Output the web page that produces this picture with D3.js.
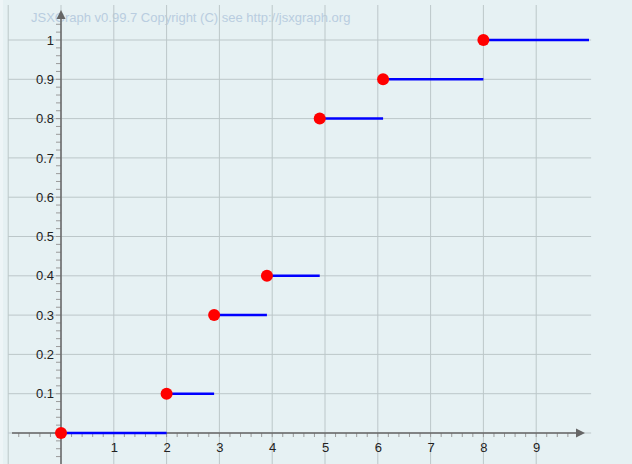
<!DOCTYPE html>
<html><head><meta charset="utf-8">
<script src="https://cdn.jsdelivr.net/npm/d3@7/dist/d3.min.js"></script>
<style>html,body{margin:0;padding:0;background:#fff}svg{display:block}</style>
</head><body>
<script>
// Step function data
const stepStarts = [0, 2, 2.9, 3.9, 4.9, 6.1, 8];
const stepEnds   = [2, 2.9, 3.9, 4.9, 6.1, 8, 10];
const stepValues = [0, 0.1, 0.3, 0.4, 0.8, 0.9, 1];
const xTickLabels = [1, 2, 3, 4, 5, 6, 7, 8, 9];
const yTickLabels = [0.1, 0.2, 0.3, 0.4, 0.5, 0.6, 0.7, 0.8, 0.9, 1];
const copyright = "JSXGraph v0.99.7 Copyright (C) see http://jsxgraph.org";

const W = 632, H = 464;
const x = d3.scaleLinear().domain([0, 1]).range([61, 113.8]);
const y = d3.scaleLinear().domain([0, 1]).range([433, 40]);

const svg = d3.select("body").append("svg").attr("width", W).attr("height", H);
svg.append("rect").attr("width", W).attr("height", H).attr("fill", "#e6f1f3");
svg.append("rect").attr("x", 0).attr("y", 0).attr("width", 3).attr("height", H).attr("fill", "#eef5f7");

// copyright text
svg.append("text").attr("x", 31).attr("y", 22).text(copyright)
  .attr("font-family", "Liberation Sans, Arial, sans-serif").attr("font-size", 13)
  .attr("fill", "#b9cde0");

// grid
const gx = d3.range(-1, 10);
const gy = d3.range(0, 11).map(d => d / 10);
const grid = svg.append("g").attr("stroke", "#bcc7c9").attr("stroke-width", 1);
grid.selectAll("line.v").data(gx).join("line")
  .attr("x1", d => x(d)).attr("x2", d => x(d)).attr("y1", 5).attr("y2", H);
grid.selectAll("line.h").data(gy).join("line")
  .attr("x1", x(-1)).attr("x2", x(10.04)).attr("y1", d => y(d)).attr("y2", d => y(d));

// axes
const axisColor = "#666";
const xAxis = d3.axisBottom(x).tickValues(xTickLabels).tickSize(0).tickPadding(7)
  .tickFormat(d3.format("d"));
const yAxis = d3.axisLeft(y).tickValues(yTickLabels).tickSize(0).tickPadding(7)
  .tickFormat(d => d3.format("~g")(d));

// minor ticks
const xMinor = d3.range(-48, 52).map(d => d / 5).filter(d => x(d) > 12 && x(d) < 578 && Math.abs(d) > 1e-9);
svg.append("g").attr("stroke", "#9a9a9a").attr("stroke-width", 1)
  .selectAll("line").data(xMinor).join("line")
  .attr("x1", d => x(d)).attr("x2", d => x(d)).attr("y1", y(0)).attr("y2", y(0) + 4);
const yMinor = d3.range(-16, 55).map(d => d / 50).filter(d => y(d) > 18 && y(d) < H && Math.abs(d) > 1e-9);
svg.append("g").attr("stroke", "#9a9a9a").attr("stroke-width", 1)
  .selectAll("line").data(yMinor).join("line")
  .attr("x1", x(0) - 5).attr("x2", x(0)).attr("y1", d => y(d)).attr("y2", d => y(d));

const gX = svg.append("g").attr("transform", `translate(0,${y(0)})`).call(xAxis);
gX.select(".domain").remove();
const gY = svg.append("g").attr("transform", `translate(${x(0)},0)`).call(yAxis);
gY.select(".domain").remove();
svg.selectAll(".tick text").attr("font-family", "Liberation Sans, Arial, sans-serif")
  .attr("font-size", 13).attr("fill", "#222");
gX.selectAll(".tick text").attr("dy", "0.9em");

svg.append("line").attr("x1", 12).attr("x2", 578).attr("y1", y(0)).attr("y2", y(0))
  .attr("stroke", axisColor).attr("stroke-width", 1.5);
svg.append("path").attr("d", `M585,${y(0)} L576,${y(0) - 4.5} L576,${y(0) + 4.5} Z`).attr("fill", axisColor);
svg.append("line").attr("x1", x(0)).attr("x2", x(0)).attr("y1", H).attr("y2", 18)
  .attr("stroke", axisColor).attr("stroke-width", 1.5);
svg.append("path").attr("d", `M${x(0)},10 L${x(0) - 4.5},19 L${x(0) + 4.5},19 Z`).attr("fill", axisColor);

// steps
const steps = stepValues.map((v, i) => ({ x0: stepStarts[i], x1: stepEnds[i], v }));
svg.append("g").selectAll("line").data(steps).join("line")
  .attr("x1", d => x(d.x0)).attr("x2", d => x(d.x1))
  .attr("y1", d => y(d.v)).attr("y2", d => y(d.v))
  .attr("stroke", "#0000ff").attr("stroke-width", 2.5);
svg.append("g").selectAll("circle").data(steps).join("circle")
  .attr("cx", d => x(d.x0)).attr("cy", d => y(d.v)).attr("r", 6)
  .attr("fill", "#ff0000");
</script>
</body></html>
